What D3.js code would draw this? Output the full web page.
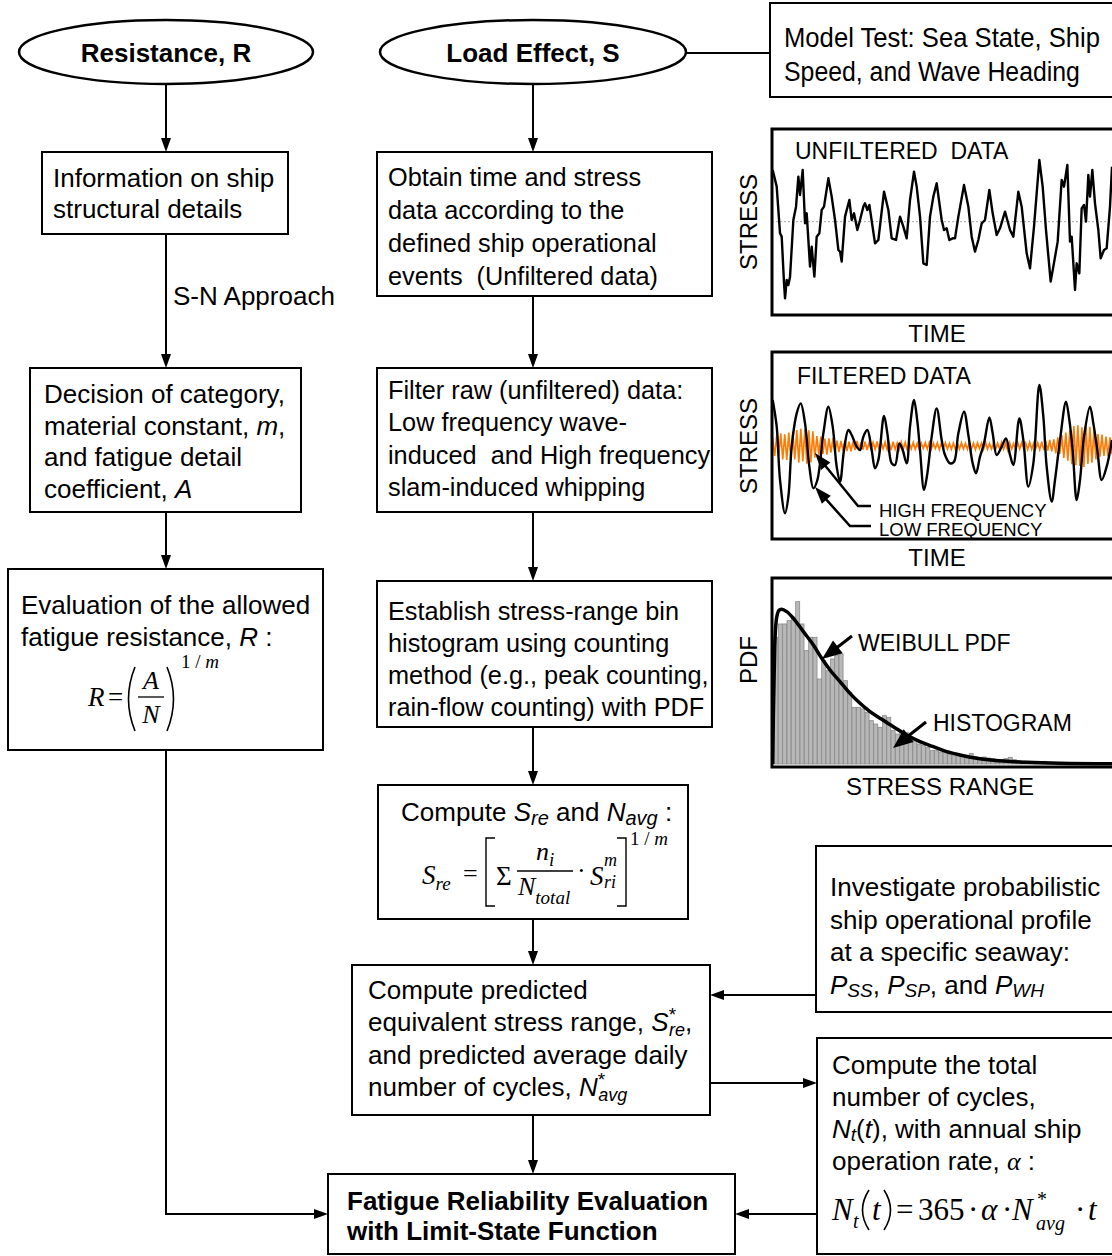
<!DOCTYPE html>
<html><head><meta charset="utf-8">
<script src="https://cdn.jsdelivr.net/npm/d3@7"></script>
<style>body{margin:0;background:#fff}svg{display:block}text{white-space:pre}</style>
</head><body>
<svg id="c" width="1112" height="1256"></svg>
<script>
// ---------- DATA (arbitrary units) ----------
// Unfiltered stress record: [time, stress]
const unfilteredSeries = [
[3.8,15.5],[5.0,10.5],[6.0,-3.5],[6.5,-4.5],[7.2,-18.5],[7.5,-23],[8.0,-17.5],[8.5,-19],[9.0,-16.5],[10.0,0.5],
[10.8,4.5],[11.5,13.5],[12.0,8],[12.8,15.5],[13.5,-0.5],[14.0,2.5],[15.0,-13.5],[15.5,-7.5],[16.3,-16.5],[17.0,-4.5],
[17.8,-3.5],[18.5,3.5],[19.2,4.5],[20.5,13],[21.5,7.5],[22.5,0.5],[23.5,-8.5],[24.0,-9],[24.5,-12],[25.5,1.5],
[26.8,6.5],[27.5,0.5],[28.2,2.5],[29.2,-2.5],[30.0,0.5],[31.0,4.5],[31.5,5.5],[32.2,3.5],[32.8,5],[34.5,-6.5],
[35.5,-5.5],[37.2,9],[38.5,3.5],[39.5,-5],[40.8,-5.5],[42.0,1.5],[43.0,-1.5],[44.0,-5],[45.0,6.5],[46.2,15],
[47.0,10.5],[48.0,1.5],[49.0,-12.5],[50.0,-13],[51.0,1.5],[52.0,7.5],[53.0,11.5],[54.5,0.5],[55.2,-2.5],[56.0,-2],
[56.8,-5.5],[57.8,-5],[58.5,-5],[59.5,1.5],[61.2,11],[62.5,4.5],[63.5,-4.5],[64.5,-9],[65.5,-5.5],[66.5,-0.5],
[67.5,0.5],[68.8,9.5],[69.8,2.5],[71.0,-4],[72.0,-2],[73.5,3],[75.0,-2.5],[76.0,-4.5],[77.5,9],[78.5,4.5],
[80.0,-9.5],[81.0,-14],[82.2,-1.5],[83.8,18.5],[84.8,10.5],[85.8,-2.5],[87.2,-18],[88.0,-13.5],[89.3,-6],[90.5,12.5],
[91.2,10.5],[92.2,17],[93.0,-6],[93.5,-4.5],[94.5,-20.5],[95.0,-12.5],[95.8,-15.5],[96.5,4],[97.2,5],[97.8,0],
[98.5,14],[99.0,7.5],[99.7,15.5],[100.5,5.5],[101.5,-2.5],[102.2,-11],[103.2,-8.5],[104.0,-8],[105.0,4.5],[105.6,16.5]
];
// Low frequency (wave-induced) component: [time, stress]
const lowFreqSeries = [
[3.8,13.8],[5.0,5.8],[6.0,-10.2],[7.5,-20.2],[8.5,-15.2],[9.5,-0.2],[11.0,9.8],[12.2,12.8],[13.5,6.8],[14.8,-6.2],
[16.0,-12.7],[17.2,-10.2],[19.0,3.8],[20.5,11.8],[21.8,5.8],[23.0,-6.2],[24.0,-10.7],[25.2,-1.2],[26.5,4.8],[27.5,3.3],
[29.0,-0.2],[30.0,-1.2],[31.0,2.8],[32.2,4.8],[33.5,-1.2],[34.5,-6.7],[35.5,-4.2],[37.2,9.0],[38.2,3.8],[39.5,-5.2],
[40.5,-5.7],[41.8,0.8],[42.8,-1.2],[44.0,-5.2],[45.0,5.8],[46.2,13.8],[47.2,7.3],[48.0,-1.2],[49.2,-13.2],[50.2,-8.2],
[51.5,2.8],[53.0,11.3],[54.5,1.8],[55.5,-2.7],[57.0,-5.2],[58.2,-4.7],[59.5,3.8],[61.2,10.3],[62.5,3.3],[63.8,-5.2],
[64.8,-8.2],[66.0,-3.2],[67.2,0.8],[68.8,8.6],[69.8,3.8],[71.0,-2.7],[72.5,-0.2],[73.8,2.3],[75.0,-2.7],[76.0,-5.7],
[77.8,8.3],[79.0,1.8],[80.5,-12.2],[82.0,-5.2],[83.8,18.3],[85.0,8.8],[86.0,-6.2],[87.5,-16.7],[88.5,-10.2],[90.0,1.8],
[91.8,13.3],[92.8,7.8],[93.8,-1.2],[95.0,-16.2],[96.0,-10.2],[97.2,2.8],[99.0,11.8],[100.0,6.8],[101.2,-1.2],[102.5,-10.2],
[104.0,-6.2],[105.6,1.8]
];
// High frequency (slam-induced whipping) component: evenly sampled stress from t=3.8 to t=105.6
const highFreqRange = [3.8, 105.6];
const highFreqValues = [
2.5,-3.0,3.2,-2.8,
3.8,-4.0,3.5,-4.2,4.0,-3.6,4.3,-4.0,
4.8,-5.0,5.2,-4.6,5.0,-5.3,4.7,-4.9,4.4,
-3.5,3.0,-2.6,2.8,-2.4,2.2,-2.6,2.3,-2.0,2.4,-1.9,
1.6,-1.8,1.5,-1.4,1.7,-1.5,1.3,-1.6,1.4,-1.2,1.5,-1.3,
1.2,-1.1,1.3,-1.2,1.0,-1.3,1.1,-1.0,1.4,-1.2,1.1,-0.9,1.2,-1.1,1.0,-1.2,1.3,-1.0,0.9,-1.1,1.2,-1.0,1.1,-1.3,1.0,
-0.9,1.1,-1.0,0.8,-1.1,0.9,-0.8,1.0,-0.9,1.1,-1.0,0.9,-0.8,1.0,-1.1,0.9,-0.8,1.0,-0.9,0.8,-1.0,0.9,-1.1,1.0,-0.9,
1.0,-0.9,0.8,-1.0,1.1,-0.9,0.9,-1.1,1.0,-0.8,0.9,-1.0,1.2,-1.0,0.8,-0.9,1.0,-1.1,0.9,-0.8,1.1,-1.0,0.9,-1.2,1.0,
-0.9,0.8,-1.0,1.1,-0.9,1.0,-0.8,0.9,-1.1,1.2,-1.0,0.9,-0.8,1.0,-1.1,1.3,-1.2,1.5,-1.4,1.8,-1.6,2.0,-2.2,2.6,-2.4,
3.2,-3.6,4.0,-4.4,4.8,
-5.5,6.0,-5.8,6.2,-6.0,5.6,-6.3,5.9,-5.4,5.8,-5.0,4.6,
-4.0,3.6,-3.2,3.4,-3.0,2.8,-3.1,2.6,-2.4
];
// Stress-range histogram (bin heights)
const histogramHeights = [
38,42,42,43,44,48.7,42,34,38,38,25.5,31,28,31.5,32.5,33,25,21.5,17,17,
16.5,15.5,13,12,11,14.5,14,10,9,9.5,9.5,8,7.5,6,5.5,5,4,4,3.6,3.4,
3,2.5,2.8,2.2,2.6,3.2,2.2,2.0,2.1,1.8,1.6,1.4,1.3,1.6,2.0,1.3,1.0,0.9,0.8,0.7,
0.6,0.5,0.8,0.5,0.4,0.4,0.3,0.4,0.3,0.3,0.2,0.3,0.2,0.2,0.2,0.1,0.2,0.1
];
// Weibull PDF fitted curve: [stress range, pdf]
const weibullCurve = [
[3.8,0],[4.0,15],[4.4,35],[5.0,44],[5.8,46.2],[6.5,46.4],[8.0,45.7],[10.0,43.7],[13.0,39.7],[16.0,35.7],
[18.5,31.7],[21,28.2],[24,24.7],[27,21.2],[30,18.2],[33,15.7],[36,13.7],[40,11.2],[44,8.7],[48,6.7],
[52,5.2],[56,3.7],[60,2.7],[65,1.7],[70,1.1],[80,0.5],[90,0.2],[105.6,0.05]
];
// Text labels
const ellipseLabels = ["Resistance, R", "Load Effect, S"];
const modelTestLines = ["Model Test: Sea State, Ship", "Speed, and Wave Heading"];
const infoLines = ["Information on ship", "structural details"];
const obtainLines = ["Obtain time and stress", "data according to the", "defined ship operational", "events  (Unfiltered data)"];
const filterLines = ["Filter raw (unfiltered) data:", "Low frequency wave-", "induced  and High frequency", "slam-induced whipping"];
const establishLines = ["Establish stress-range bin", "histogram using counting", "method (e.g., peak counting,", "rain-flow counting) with PDF"];
const finalLines = ["Fatigue Reliability Evaluation", "with Limit-State Function"];
const panelTitles = ["UNFILTERED  DATA", "FILTERED DATA"];
const panelAxisLabels = ["TIME", "TIME", "STRESS RANGE"];
const panelYLabels = ["STRESS", "STRESS", "PDF"];

// ---------- DRAWING ----------
const svg = d3.select("#c");
const SANS = "'Liberation Sans', Arial, Helvetica, sans-serif";
const SERIF = "'Liberation Serif', 'Times New Roman', Times, serif";
const FS = 26;

function rect(x0,y0,x1,y1,sw=2){
  svg.append("rect").attr("x",x0).attr("y",y0).attr("width",x1-x0).attr("height",y1-y0)
    .attr("fill","#fff").attr("stroke","#000").attr("stroke-width",sw);
}
function head(x2,y2,ang,L,hw){
  const bx = x2 - L*Math.cos(ang), by = y2 - L*Math.sin(ang);
  const nx = -Math.sin(ang)*hw, ny = Math.cos(ang)*hw;
  svg.append("path").attr("d",`M${x2},${y2}L${bx+nx},${by+ny}L${bx-nx},${by-ny}Z`).attr("fill","#000");
  return [bx,by];
}
function arrow(pts, sw=2, L=14, hw=5, withHead=true){
  const n = pts.length;
  let last = pts[n-1];
  if (withHead){
    const p = pts[n-2];
    const ang = Math.atan2(last[1]-p[1], last[0]-p[0]);
    const b = head(last[0], last[1], ang, L, hw);
    pts = pts.slice(0,n-1).concat([[b[0]+Math.cos(ang)*1, b[1]+Math.sin(ang)*1]]);
  }
  svg.append("path").attr("d", d3.line()(pts)).attr("fill","none").attr("stroke","#000").attr("stroke-width",sw);
}
function rich(x,y,segs,opt={}){
  const t = svg.append("text").attr("x",x).attr("y",y)
    .style("font-family", opt.ff||SANS).style("font-size",(opt.fs||FS)+"px")
    .style("font-weight", opt.bold?"bold":"normal");
  if (opt.anchor) t.attr("text-anchor",opt.anchor);
  let cur = 0;
  segs.forEach(s=>{
    if (typeof s === "string") s = {t:s};
    const sp = t.append("tspan").text(s.t);
    const target = s.dy||0;
    if (target !== cur) sp.attr("dy", target-cur);
    cur = target;
    if (s.i) sp.style("font-style","italic");
    if (s.fs) sp.style("font-size", s.fs+"px");
    if (s.ff) sp.style("font-family", s.ff);
    if (s.dx) sp.attr("dx", s.dx);
  });
  return t;
}
function lines(x,y0,step,arr,opt){ arr.forEach((l,i)=>rich(x,y0+i*step,Array.isArray(l)?l:[l],opt)); }
function paren(x, y0, y1, dir){
  const ym = (y0+y1)/2, bulge = 13*dir;
  svg.append("path").attr("d",`M${x},${y0} Q${x-bulge},${ym} ${x},${y1}`).attr("fill","none").attr("stroke","#000").attr("stroke-width",1.6);
}

// connectors first
svg.append("line").attr("x1",686).attr("y1",53).attr("x2",770).attr("y2",53).attr("stroke","#000").attr("stroke-width",2);
arrow([[166,84],[166,152]]);
arrow([[166,234],[166,368]]);
arrow([[166,512],[166,569]]);
arrow([[166,750],[166,1214],[328,1214]]);
arrow([[533,84],[533,152]]);
arrow([[533,296],[533,368]]);
arrow([[533,512],[533,581]]);
arrow([[533,727],[533,785]]);
arrow([[533,919],[533,965]]);
arrow([[533,1115],[533,1174]]);
arrow([[816,995],[710,995]]);
arrow([[710,1083],[817,1083]]);
arrow([[817,1214],[735,1214]]);

// ellipses
[[166,52,147,32],[533,52,153,32]].forEach((e,i)=>{
  svg.append("ellipse").attr("cx",e[0]).attr("cy",e[1]).attr("rx",e[2]).attr("ry",e[3])
    .attr("fill","#fff").attr("stroke","#000").attr("stroke-width",2.5);
  rich(e[0],62,[ellipseLabels[i]],{bold:true,anchor:"middle"});
});

// Model test box (condensed type)
rect(770,3,1120,97);
modelTestLines.forEach((l,i)=>{
  const t = svg.append("text").attr("x",0).attr("y",0).text(l)
    .style("font-family",SANS).style("font-size","27px");
  const w = t.node().getComputedTextLength();
  const target = [316,296][i];
  t.attr("transform",`translate(784,${[47,81][i]}) scale(${target/w},1)`);
});

// Column 1
rect(42,152,288,234); lines(53,187,31,infoLines);
rich(173,305,["S-N Approach"]);
rect(30,368,301,512);
lines(44,403,31.7,["Decision of category,",["material constant, ",{t:"m",i:true},","],"and fatigue detail",["coefficient, ",{t:"A",i:true}]]);
rect(8,569,323,750);
lines(21,614,32,["Evaluation of the allowed",["fatigue resistance, ",{t:"R",i:true}," :"]]);
// R = (A/N)^(1/m)
rich(88,706,[{t:"R",i:true}],{ff:SERIF,fs:27});
rich(108,706,["="],{ff:SERIF,fs:27});
paren(135,667,731,1);
paren(167,667,731,-1);
rich(151,689,[{t:"A",i:true}],{ff:SERIF,fs:26,anchor:"middle"});
svg.append("line").attr("x1",138).attr("x2",164).attr("y1",697).attr("y2",697).attr("stroke","#000").attr("stroke-width",1.3);
rich(151,723,[{t:"N",i:true}],{ff:SERIF,fs:26,anchor:"middle"});
rich(181,668,["1 / ",{t:"m",i:true}],{ff:SERIF,fs:19});

// Column 2
const FS2 = 25.3;
rect(377,152,712,296); lines(388,186,33,obtainLines,{fs:FS2});
rect(377,368,712,512); lines(388,399,32.3,filterLines,{fs:FS2});
rect(377,581,712,727); lines(388,620,32,establishLines,{fs:FS2});
rect(378,785,688,919);
rich(401,821,["Compute ",{t:"S",i:true},{t:"re",i:true,fs:20,dy:4},{t:" and ",dy:0},{t:"N",i:true},{t:"avg",i:true,fs:20,dy:4},{t:" :",dy:0}]);
// S_re = [ Σ n_i/N_total · S_ri^m ]^(1/m)
rich(422,884,[{t:"S",i:true},{t:"re",i:true,fs:19,dy:6}],{ff:SERIF,fs:27});
rich(463,882,["="],{ff:SERIF,fs:26});
svg.append("path").attr("d","M495,838 L486,838 L486,906 L495,906").attr("fill","none").attr("stroke","#000").attr("stroke-width",1.4);
svg.append("path").attr("d","M617,838 L626,838 L626,906 L617,906").attr("fill","none").attr("stroke","#000").attr("stroke-width",1.4);
rich(496,885,["\u03A3"],{ff:SERIF,fs:27});
rich(536,860,[{t:"n",i:true},{t:"i",i:true,fs:19,dy:6}],{ff:SERIF,fs:26});
svg.append("line").attr("x1",517).attr("x2",573).attr("y1",871).attr("y2",871).attr("stroke","#000").attr("stroke-width",1.3);
rich(518,895,[{t:"N",i:true},{t:"total",i:true,fs:19,dy:9}],{ff:SERIF,fs:26});
rich(577,879,["\u00B7"],{ff:SERIF,fs:26});
rich(590,885,[{t:"S",i:true}],{ff:SERIF,fs:27});
rich(604,866,[{t:"m",i:true}],{ff:SERIF,fs:18});
rich(604,888,[{t:"ri",i:true}],{ff:SERIF,fs:18});
rich(630,845,["1 / ",{t:"m",i:true}],{ff:SERIF,fs:19});

rect(352,965,710,1115);
lines(368,999,32.3,["Compute predicted",
  ["equivalent stress range, ",{t:"S",i:true},{t:"*",fs:19,dy:-10},{t:"re",i:true,fs:18,dy:5,dx:-7},{t:",",dy:0}],
  "and predicted average daily",
  ["number of cycles, ",{t:"N",i:true},{t:"*",fs:19,dy:-10},{t:"avg",i:true,fs:18,dy:5,dx:-7}]]);

rect(328,1174,735,1254); lines(347,1210,30,finalLines,{bold:true});

// Right column boxes
rect(816,846,1120,1012);
lines(830,896,32.5,["Investigate probabilistic","ship operational profile","at a specific seaway:",
  [{t:"P",i:true},{t:"SS",i:true,fs:19,dy:3},{t:", ",dy:0},{t:"P",i:true},{t:"SP",i:true,fs:19,dy:3},{t:", and ",dy:0},{t:"P",i:true},{t:"WH",i:true,fs:19,dy:3}]]);
rect(817,1038,1120,1254);
lines(832,1074,32,["Compute the total","number of cycles,",
  [{t:"N",i:true},{t:"t",i:true,fs:19,dy:3},{t:"(",dy:0},{t:"t",i:true},"), with annual ship"],
  ["operation rate, ",{t:"\u03B1",i:true,ff:SERIF}," :"]]);
// N_t(t) = 365 · α · N*_avg · t
const FB = 31;
rich(832,1220,[{t:"N",i:true}],{ff:SERIF,fs:FB});
rich(853,1228,[{t:"t",i:true}],{ff:SERIF,fs:20});
paren(869,1190,1230,1);
rich(872,1220,[{t:"t",i:true}],{ff:SERIF,fs:FB});
paren(884,1190,1230,-1);
rich(896,1220,["="],{ff:SERIF,fs:FB});
rich(918,1220,["365"],{ff:SERIF,fs:FB});
rich(968,1220,["\u00B7"],{ff:SERIF,fs:FB});
rich(981,1220,[{t:"\u03B1",i:true}],{ff:SERIF,fs:FB});
rich(1002,1220,["\u00B7"],{ff:SERIF,fs:FB});
rich(1012,1220,[{t:"N",i:true}],{ff:SERIF,fs:FB});
rich(1037,1206,["*"],{ff:SERIF,fs:20});
rich(1036,1230,[{t:"avg",i:true}],{ff:SERIF,fs:20});
rich(1075,1220,["\u00B7"],{ff:SERIF,fs:FB});
rich(1088,1220,[{t:"t",i:true}],{ff:SERIF,fs:FB});

// ---------- Panels ----------
const xT = d3.scaleLinear().domain([3.5,105.6]).range([771.7,1112]);
const y1 = d3.scaleLinear().domain([-25,25]).range([305,138.3]);
const y2 = d3.scaleLinear().domain([-25,25]).range([529.3,362.7]);
const yP = d3.scaleLinear().domain([0,50]).range([764,597.3]);
const xB = d3.scaleBand().domain(d3.range(histogramHeights.length)).range([774,1112]).paddingInner(0.08);

const clip = svg.append("defs");
[[129,315],[352,539],[578,767]].forEach((p,i)=>{
  clip.append("clipPath").attr("id","cp"+i).append("rect").attr("x",772).attr("y",p[0]).attr("width",345).attr("height",p[1]-p[0]);
});

// Panel 1
const g1 = svg.append("g").attr("clip-path","url(#cp0)");
g1.append("line").attr("x1",772).attr("x2",1112).attr("y1",y1(0)).attr("y2",y1(0)).attr("stroke","#aaa").attr("stroke-width",1).attr("stroke-dasharray","2,2");
g1.append("path").datum(unfilteredSeries).attr("d",d3.line().x(d=>xT(d[0])).y(d=>y1(d[1])))
  .attr("fill","none").attr("stroke","#000").attr("stroke-width",2.4).attr("stroke-linejoin","round");
svg.append("rect").attr("x",772).attr("y",129).attr("width",345).attr("height",186).attr("fill","none").attr("stroke","#000").attr("stroke-width",3);

// Panel 2
const g2 = svg.append("g").attr("clip-path","url(#cp1)");
g2.append("line").attr("x1",772).attr("x2",1112).attr("y1",y2(0)).attr("y2",y2(0)).attr("stroke","#aaa").attr("stroke-width",1).attr("stroke-dasharray","2,2");
const hfStep = (highFreqRange[1]-highFreqRange[0])/(highFreqValues.length-1);
g2.append("path").datum(highFreqValues).attr("d",d3.line().x((d,i)=>xT(highFreqRange[0]+i*hfStep)).y(d=>y2(d)))
  .attr("fill","none").attr("stroke","#ff7a00").attr("stroke-width",1.6);
g2.append("path").datum(lowFreqSeries).attr("d",d3.line().curve(d3.curveCatmullRom).x(d=>xT(d[0])).y(d=>y2(d[1])))
  .attr("fill","none").attr("stroke","#000").attr("stroke-width",2.4);
svg.append("rect").attr("x",772).attr("y",352).attr("width",345).attr("height",187).attr("fill","none").attr("stroke","#000").attr("stroke-width",3);

// Panel 3
const g3 = svg.append("g").attr("clip-path","url(#cp2)");
g3.selectAll("rect.bar").data(histogramHeights).join("rect").attr("class","bar")
  .attr("x",(d,i)=>xB(i)).attr("width",xB.bandwidth()).attr("y",d=>yP(d)).attr("height",d=>yP(0)-yP(d))
  .attr("fill","#b8b8b8").attr("stroke","#8a8a8a").attr("stroke-width",0.8);
g3.append("path").datum(weibullCurve).attr("d",d3.line().curve(d3.curveMonotoneX).x(d=>xT(d[0])).y(d=>yP(d[1])))
  .attr("fill","none").attr("stroke","#000").attr("stroke-width",3.5);
svg.append("rect").attr("x",772).attr("y",578).attr("width",345).attr("height",189).attr("fill","none").attr("stroke","#000").attr("stroke-width",3);

// Panel labels
rich(795,159,[panelTitles[0]],{fs:23});
rich(797,384,[panelTitles[1]],{fs:23});
[[937,342],[937,566],[940,795]].forEach((p,i)=>rich(p[0],p[1],[panelAxisLabels[i]],{fs:24,anchor:"middle"}));
[[757,222],[757,446],[757,660]].forEach((p,i)=>{
  svg.append("text").attr("transform",`translate(${p[0]},${p[1]}) rotate(-90)`).attr("text-anchor","middle")
    .style("font-family",SANS).style("font-size","24px").text(panelYLabels[i]);
});
// Annotations panel 2
rich(879,517,["HIGH FREQUENCY"],{fs:18.5});
rich(879,536,["LOW FREQUENCY"],{fs:18.5});
arrow([[871,506],[858,506],[815,453]],2.5,17,6);
arrow([[871,526],[850,526],[815,487]],2.5,17,6);
// Annotations panel 3
rich(858,651,["WEIBULL PDF"],{fs:23});
rich(933,731,["HISTOGRAM"],{fs:23});
arrow([[852,636],[822,659]],3,20,8);
arrow([[926,722],[893,748]],3,20,8);
</script>
</body></html>
